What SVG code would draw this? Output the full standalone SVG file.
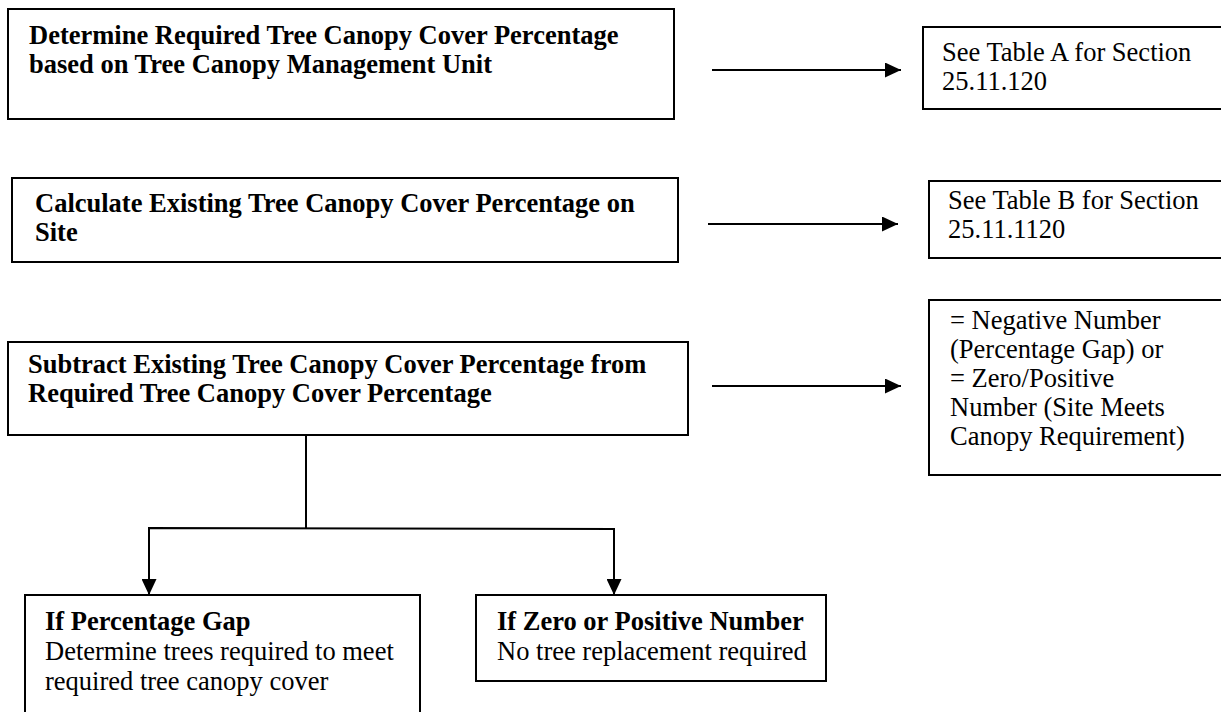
<svg xmlns="http://www.w3.org/2000/svg" width="1221" height="712" viewBox="0 0 1221 712">
<style>
.box{fill:#fff;stroke:#000;stroke-width:2}
.b{font-family:"Liberation Serif","Times New Roman",serif;font-size:26.5px;font-weight:bold;fill:#000}
.r{font-family:"Liberation Serif","Times New Roman",serif;font-size:26.5px;fill:#000}
.c{fill:none;stroke:#000;stroke-width:2}
</style>
<defs>
<marker id="ah" markerUnits="userSpaceOnUse" markerWidth="16" markerHeight="15" refX="16" refY="7.5" orient="auto">
<path d="M0,0 L16,7.5 L0,15 Z" fill="#000"/>
</marker>
</defs>
<rect width="1221" height="712" fill="#fff"/>
<g id="connectors">
<line class="c" x1="712" y1="70" x2="901" y2="70" marker-end="url(#ah)"/>
<line class="c" x1="708" y1="224" x2="898" y2="224" marker-end="url(#ah)"/>
<line class="c" x1="712" y1="386" x2="901" y2="386" marker-end="url(#ah)"/>
<line class="c" x1="306" y1="436" x2="306" y2="529"/>
<polyline class="c" points="149,580 149,528 614,529 614,580"/>
<line class="c" x1="149" y1="575" x2="149" y2="595" marker-end="url(#ah)"/>
<line class="c" x1="614" y1="575" x2="614" y2="595" marker-end="url(#ah)"/>
</g>
<g id="n1">
<rect class="box" x="8" y="9" width="666" height="110"/>
<text class="b" x="29" y="44">Determine Required Tree Canopy Cover Percentage</text>
<text class="b" x="29" y="73">based on Tree Canopy Management Unit</text>
</g>
<g id="nA">
<rect class="box" x="923" y="27" width="310" height="82"/>
<text class="r" x="942" y="61">See Table A for Section</text>
<text class="r" x="942" y="90">25.11.120</text>
</g>
<g id="n2">
<rect class="box" x="12" y="178" width="666" height="84"/>
<text class="b" x="35" y="212">Calculate Existing Tree Canopy Cover Percentage on</text>
<text class="b" x="35" y="241">Site</text>
</g>
<g id="nB">
<rect class="box" x="929" y="181" width="310" height="77"/>
<text class="r" x="948" y="209">See Table B for Section</text>
<text class="r" x="948" y="238">25.11.1120</text>
</g>
<g id="n3">
<rect class="box" x="8" y="342" width="680" height="93"/>
<text class="b" x="28" y="373">Subtract Existing Tree Canopy Cover Percentage from</text>
<text class="b" x="28" y="402">Required Tree Canopy Cover Percentage</text>
</g>
<g id="nC">
<rect class="box" x="929" y="300" width="310" height="175"/>
<text class="r" x="950" y="329">= Negative Number</text>
<text class="r" x="950" y="358">(Percentage Gap) or</text>
<text class="r" x="950" y="387">= Zero/Positive</text>
<text class="r" x="950" y="416">Number (Site Meets</text>
<text class="r" x="950" y="445">Canopy Requirement)</text>
</g>
<g id="nD">
<rect class="box" x="25" y="595" width="395" height="130"/>
<text class="b" x="45" y="630">If Percentage Gap</text>
<text class="r" x="45" y="660">Determine trees required to meet</text>
<text class="r" x="45" y="690">required tree canopy cover</text>
</g>
<g id="nE">
<rect class="box" x="476" y="595" width="350" height="86"/>
<text class="b" x="497" y="630">If Zero or Positive Number</text>
<text class="r" x="497" y="660">No tree replacement required</text>
</g>
</svg>
